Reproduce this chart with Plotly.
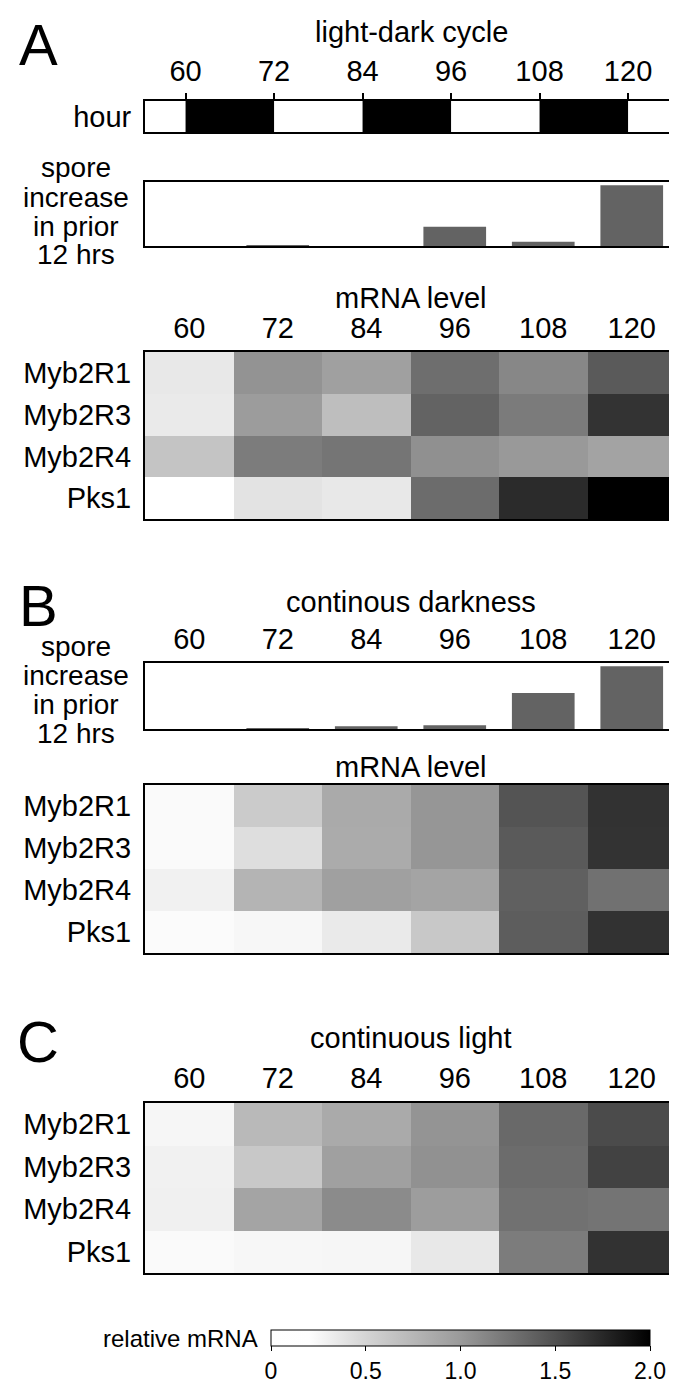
import plotly.graph_objects as go

# hours sampled
hours = [60, 72, 84, 96, 108, 120]
hour_labels = ["60", "72", "84", "96", "108", "120"]
genes = ["Myb2R1", "Myb2R3", "Myb2R4", "Pks1"]

# dark periods of the light-dark cycle
dark_start = [60, 84, 108]
dark_end = [72, 96, 120]

# spore increase in prior 12 hrs (relative to box height)
spore_ld = [0.0, 0.012, 0.0, 0.30, 0.065, 0.95]
spore_dd = [0.0, 0.012, 0.04, 0.058, 0.545, 0.95]

# relative mRNA, rows = genes, columns = hours
mrna_ld = [
    [0.36, 1.05, 0.95, 1.30, 1.13, 1.43],
    [0.34, 0.98, 0.69, 1.37, 1.21, 1.68],
    [0.64, 1.20, 1.25, 1.07, 1.01, 0.92],
    [0.00, 0.39, 0.36, 1.31, 1.73, 2.00],
]
mrna_dd = [
    [0.23, 0.58, 0.86, 1.03, 1.47, 1.69],
    [0.23, 0.43, 0.85, 1.03, 1.43, 1.68],
    [0.29, 0.78, 0.95, 0.91, 1.39, 1.28],
    [0.22, 0.25, 0.34, 0.60, 1.41, 1.69],
]
mrna_ll = [
    [0.26, 0.73, 0.86, 1.04, 1.33, 1.53],
    [0.29, 0.60, 0.95, 1.06, 1.31, 1.59],
    [0.30, 0.91, 1.10, 0.97, 1.28, 1.26],
    [0.23, 0.25, 0.26, 0.36, 1.20, 1.69],
]

cbar_vals = [0, 0.5, 1.0, 1.5, 2.0]
cbar_text = ["0", "0.5", "1.0", "1.5", "2.0"]

W, H = 677, 1384
FONT = "Liberation Sans, Arial, sans-serif"
FS = 29


def ydom(top, bottom):
    return [1 - bottom / H, 1 - top / H]


xdom = [137 / W, 668 / W]

fig = go.Figure()

# 1. light-dark cycle bar
fig.add_trace(go.Bar(
    x=[e - s for s, e in zip(dark_start, dark_end)], base=dark_start,
    y=["hour"] * len(dark_start), orientation="h", width=1,
    marker=dict(color="black", line=dict(width=0)),
    xaxis="x", yaxis="y", hoverinfo="skip",
))

# 2. spore bars
fig.add_trace(go.Bar(x=hours, y=spore_ld, width=8.5,
                     marker=dict(color="#636363", line=dict(width=0)),
                     xaxis="x2", yaxis="y2"))
fig.add_trace(go.Bar(x=hours, y=spore_dd, width=8.5,
                     marker=dict(color="#636363", line=dict(width=0)),
                     xaxis="x4", yaxis="y4"))

# 3. heatmaps
for z, ax in [(mrna_ld, "3"), (mrna_dd, "5"), (mrna_ll, "6")]:
    fig.add_trace(go.Heatmap(x=hours, y=genes, z=z, coloraxis="coloraxis",
                             xaxis="x" + ax, yaxis="y" + ax))

box = dict(showline=True, mirror=True, linecolor="black", linewidth=2,
           showgrid=False, zeroline=False)

def xaxis(show_labels, ticks="", standoff=2):
    return dict(box, domain=xdom, range=[54, 126], side="top",
                tickvals=hours, ticktext=hour_labels, ticks=ticks,
                ticklen=6, tickwidth=1.5, tickcolor="black",
                showticklabels=show_labels, ticklabelstandoff=standoff,
                tickfont=dict(size=FS, color="black"))

def yheat(top, bottom, anchor):
    return dict(box, domain=ydom(top, bottom), autorange="reversed",
                ticks="", ticklabelstandoff=6, anchor=anchor,
                tickfont=dict(size=FS, color="black"))

fig.update_layout(
    width=W, height=H,
    margin=dict(l=0, r=0, t=0, b=0),
    paper_bgcolor="white", plot_bgcolor="white",
    showlegend=False,
    font=dict(family=FONT, size=FS, color="black"),
    xaxis=dict(xaxis(True, "outside", 0), range=[54.5, 126.5]),
    yaxis=dict(box, domain=ydom(93, 124), range=[-0.5, 0.5],
               ticks="", ticklabelstandoff=6,
               tickfont=dict(size=FS, color="black")),
    xaxis2=dict(xaxis(False), anchor="y2"),
    yaxis2=dict(box, domain=ydom(174, 238), range=[0, 1],
                showticklabels=False, anchor="x2"),
    xaxis3=dict(xaxis(True, "", 0), anchor="y3"),
    yaxis3=yheat(344, 511, "x3"),
    xaxis4=dict(xaxis(True, "", 0), anchor="y4"),
    yaxis4=dict(box, domain=ydom(655, 721), range=[0, 1],
                showticklabels=False, anchor="x4"),
    xaxis5=dict(xaxis(False), anchor="y5"),
    yaxis5=yheat(777, 945, "x5"),
    xaxis6=dict(xaxis(True, "", 1), anchor="y6"),
    yaxis6=yheat(1095, 1265, "x6"),
    coloraxis=dict(
        cmin=0, cmax=2,
        colorscale=[[0, "#ffffff"], [0.1, "#fefefe"], [0.25, "#d4d4d4"],
                    [0.5, "#9a9a9a"], [0.75, "#505050"], [1, "#000000"]],
        colorbar=dict(
            orientation="h", x=452.5 / W, xanchor="center",
            y=1 - 1322 / H, yanchor="top", len=379 / W, lenmode="fraction",
            thickness=16, thicknessmode="pixels", xpad=0, ypad=0,
            outlinecolor="black", outlinewidth=1,
            ticks="outside", ticklen=5, tickcolor="black",
            tickvals=cbar_vals, ticktext=cbar_text,
            tickfont=dict(size=23, color="black"),
        ),
    ),
)

# text labels
def label(text, x, y, size=FS, anchor="center"):
    fig.add_annotation(text=text, x=x / W, y=1 - y / H, xref="paper", yref="paper",
                       showarrow=False, xanchor=anchor, yanchor="middle",
                       font=dict(size=size, color="black"))

label("A", 30, 37, 58)
label("B", 30, 597, 58)
label("C", 30, 1033, 58)
label("light-dark cycle", 403, 24)
label("mRNA level", 403, 290)
label("continous darkness", 403, 594)
label("mRNA level", 403, 759)
label("continuous light", 403, 1030)

for top in [160, 638]:
    for i, t in enumerate(["spore", "increase", "in prior", "12 hrs"]):
        label(t, 68, top + i * 29, 28)

label("relative mRNA", 252, 1330, 24, "right")

fig.write_html("out.html")
